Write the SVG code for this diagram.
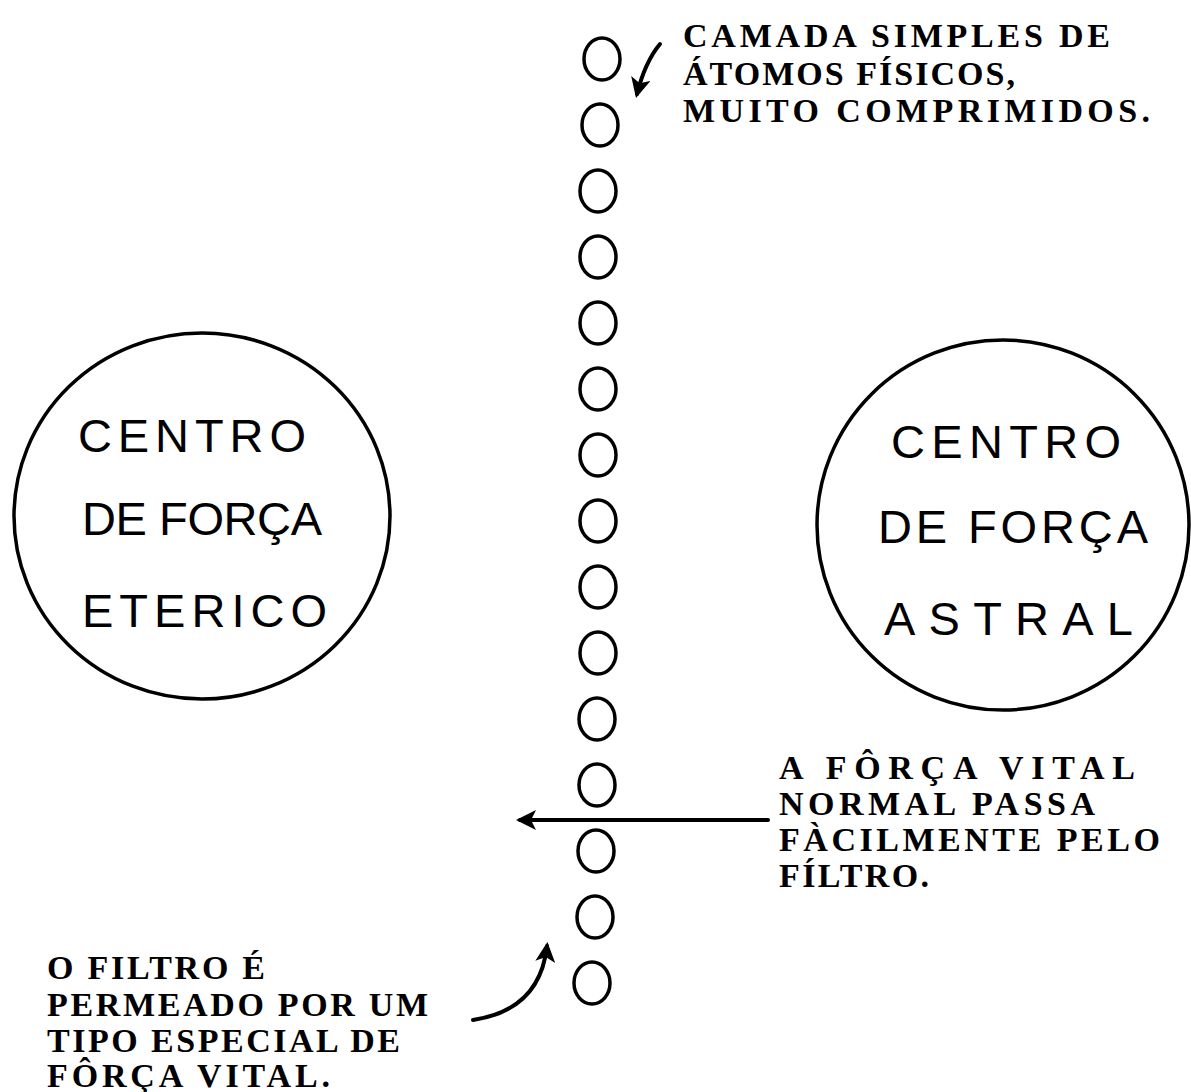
<svg xmlns="http://www.w3.org/2000/svg" width="1191" height="1092" viewBox="0 0 1191 1092">
<style>
.bg{fill:#fff}
.atom{fill:none;stroke:#000;stroke-width:3.5}
.big{fill:none;stroke:#000;stroke-width:3.5}
.lbl{font-family:"Liberation Serif","Times New Roman",serif;font-weight:bold;font-size:34px;fill:#000}
.hand{font-family:"Liberation Sans",Arial,sans-serif;font-size:47px;fill:#000}
.conn{fill:none;stroke:#000;stroke-width:4;stroke-linecap:round}
</style>
<defs>
<marker id="ah" viewBox="0 0 10 10" refX="8" refY="5" markerWidth="5" markerHeight="5" orient="auto" markerUnits="strokeWidth">
<path d="M0,0 L10,5 L0,10 L2.5,5 Z" fill="#000"/>
</marker>
</defs>
<rect class="bg" width="1191" height="1092"/>

<g id="filtro">
<ellipse class="atom" cx="602" cy="59" rx="18" ry="21"/>
<ellipse class="atom" cx="600" cy="125" rx="18" ry="21"/>
<ellipse class="atom" cx="598" cy="191" rx="18" ry="21"/>
<ellipse class="atom" cx="598" cy="257" rx="18" ry="21"/>
<ellipse class="atom" cx="598" cy="323" rx="18" ry="21"/>
<ellipse class="atom" cx="598" cy="389" rx="18" ry="21"/>
<ellipse class="atom" cx="598" cy="455" rx="18" ry="21"/>
<ellipse class="atom" cx="598" cy="521" rx="18" ry="21"/>
<ellipse class="atom" cx="598" cy="587" rx="18" ry="21"/>
<ellipse class="atom" cx="598" cy="653" rx="18" ry="21"/>
<ellipse class="atom" cx="597" cy="719" rx="18" ry="21"/>
<ellipse class="atom" cx="597" cy="785" rx="18" ry="21"/>
<ellipse class="atom" cx="596" cy="851" rx="18" ry="21"/>
<ellipse class="atom" cx="595" cy="917" rx="18" ry="21"/>
<ellipse class="atom" cx="592" cy="983" rx="18" ry="21"/>
</g>

<g id="centro-eterico">
<ellipse class="big" cx="202" cy="516" rx="188" ry="183"/>
<text class="hand" x="78" y="452" textLength="228" lengthAdjust="spacing">CENTRO</text>
<text class="hand" x="82" y="535" textLength="240" lengthAdjust="spacing">DE FORÇA</text>
<text class="hand" x="82" y="627" textLength="245" lengthAdjust="spacing">ETERICO</text>
</g>

<g id="centro-astral">
<ellipse class="big" cx="1003" cy="525" rx="186" ry="185"/>
<text class="hand" x="891" y="458" textLength="230" lengthAdjust="spacing">CENTRO</text>
<text class="hand" x="878" y="543" textLength="270" lengthAdjust="spacing">DE FORÇA</text>
<text class="hand" x="884" y="635" textLength="249" lengthAdjust="spacing">ASTRAL</text>
</g>

<g id="nota-camada">
<text class="lbl" x="683" y="47" textLength="427" lengthAdjust="spacing">CAMADA SIMPLES DE</text>
<text class="lbl" x="683" y="85" textLength="332" lengthAdjust="spacing">ÁTOMOS FÍSICOS,</text>
<text class="lbl" x="683" y="122" textLength="467" lengthAdjust="spacing">MUITO COMPRIMIDOS.</text>
</g>

<g id="nota-forca-normal">
<text class="lbl" x="779" y="779" textLength="356" lengthAdjust="spacing">A FÔRÇA VITAL</text>
<text class="lbl" x="779" y="815" textLength="316" lengthAdjust="spacing">NORMAL PASSA</text>
<text class="lbl" x="779" y="851" textLength="381" lengthAdjust="spacing">FÀCILMENTE PELO</text>
<text class="lbl" x="779" y="887" textLength="150" lengthAdjust="spacing">FÍLTRO.</text>
</g>

<g id="nota-filtro">
<text class="lbl" x="47" y="979" textLength="218" lengthAdjust="spacing">O FILTRO É</text>
<text class="lbl" x="47" y="1016" textLength="381" lengthAdjust="spacing">PERMEADO POR UM</text>
<text class="lbl" x="47" y="1052" textLength="353" lengthAdjust="spacing">TIPO ESPECIAL DE</text>
<text class="lbl" x="47" y="1087" textLength="283" lengthAdjust="spacing">FÔRÇA VITAL.</text>
</g>

<g id="connectors">
<path class="conn" d="M660,44 Q645,62 637,94" marker-end="url(#ah)"/>
<path class="conn" d="M768,820 L520,820" marker-end="url(#ah)"/>
<path class="conn" d="M473,1020 Q540,1010 547,946" marker-end="url(#ah)"/>
</g>
</svg>
